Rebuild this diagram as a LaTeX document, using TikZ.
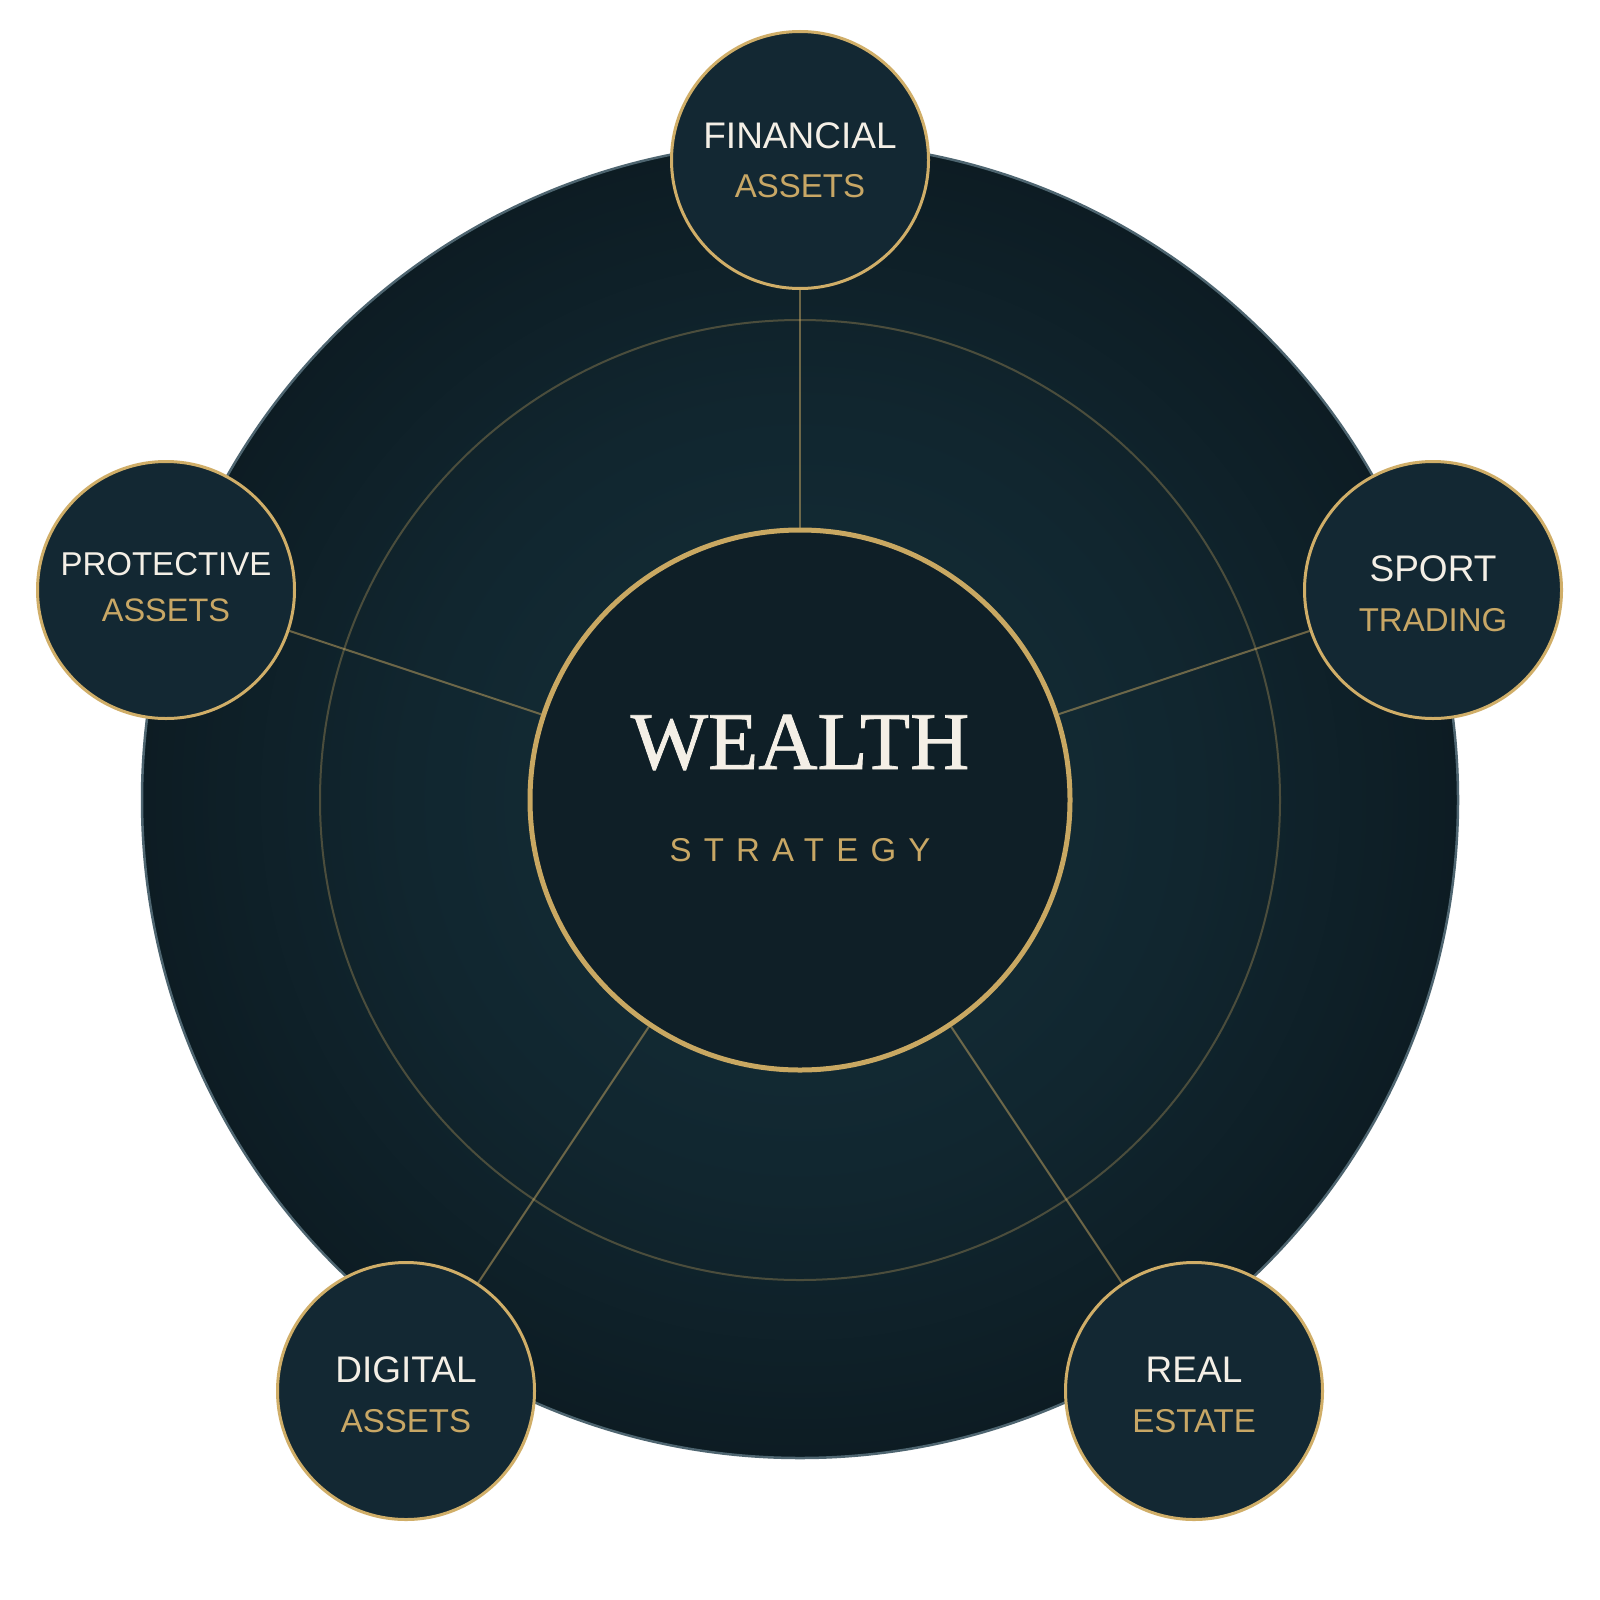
\documentclass[tikz,border=0pt]{standalone}
\usepackage{fontspec}
\setmainfont{Liberation Sans}
\newfontfamily\wealthfont[FakeBold=1]{Liberation Serif}
\newfontfamily\trackfont[LetterSpace=37]{Liberation Sans}
\definecolor{gold}{HTML}{C9A862}
\definecolor{satgold}{HTML}{D0AE68}
\definecolor{goldtext}{HTML}{C8A765}
\definecolor{cream}{HTML}{F4EFE6}
\definecolor{satfill}{HTML}{132833}
\definecolor{corefill}{HTML}{0F1F27}
\definecolor{mainedge}{HTML}{4E6570}
\definecolor{glowA}{HTML}{14303A}
\definecolor{glowB}{HTML}{11262F}
\definecolor{glowC}{HTML}{0C1B22}
\definecolor{glowD}{HTML}{061015}
\pgfdeclareradialshading{mainglow}{\pgfpoint{0bp}{0bp}}{color(0bp)=(glowA); color(15bp)=(glowB); color(26bp)=(glowC); color(35.4bp)=(glowD); color(50bp)=(glowD)}
\begin{document}
\begin{tikzpicture}[x=1pt,y=-1pt,
  satnode/.style={circle, draw=satgold, line width=3pt, fill=satfill, minimum size=257pt, inner sep=0pt},
  corenode/.style={circle, draw=gold, line width=5pt, fill=corefill, minimum size=540pt, inner sep=0pt},
  linkline/.style={draw=gold, draw opacity=0.5, line width=2pt},
  ringline/.style={draw=gold, draw opacity=0.32, line width=2pt},
  topword/.style={text=cream, font=\fontsize{37}{40}\selectfont, inner sep=0pt, anchor=base},
  subword/.style={text=goldtext, font=\fontsize{33}{36}\selectfont, inner sep=0pt, anchor=base}
]
\fill[white] (0,0) rectangle (1600,1600);
\useasboundingbox (0,0) rectangle (1600,1600);
% main disc
\shade[shading=mainglow] (800,800) circle[radius=658];
\draw[draw=mainedge, line width=2.5pt] (800,800) circle[radius=658];
% middle ring
\draw[ringline] (800,800) circle[radius=480];
% nodes
\node[corenode] (core) at (800,800) {};
\node[satnode] (fin) at (800,160) {};
\node[satnode] (sport) at (1433,590) {};
\node[satnode] (prot) at (166,590) {};
\node[satnode] (dig) at (406,1391) {};
\node[satnode] (real) at (1194,1391) {};
% connectors
\draw[linkline] (fin) -- (core);
\draw[linkline] (sport) -- (core);
\draw[linkline] (prot) -- (core);
\draw[linkline] (dig) -- (core);
\draw[linkline] (real) -- (core);
% texts
\node[text=cream, font=\wealthfont\fontsize{82}{90}\selectfont, inner sep=0pt, anchor=base] (wealthtxt) at ([yshift=31pt]core.center) {WEALTH};
\node[text=goldtext, font=\trackfont\fontsize{33}{36}\selectfont, inner sep=0pt, anchor=base] (strattxt) at ([yshift=-61pt]core.center) {STRATEGY};
\node[topword] (finA) at ([yshift=12pt]fin.center) {FINANCIAL};
\node[subword] (finB) at ([yshift=-37pt]fin.center) {ASSETS};
\node[topword] (sportA) at ([yshift=9pt]sport.center) {SPORT};
\node[subword] (sportB) at ([yshift=-41pt]sport.center) {TRADING};
\node[topword, font=\fontsize{33}{36}\selectfont] (protA) at ([yshift=14.5pt]prot.center) {PROTECTIVE};
\node[subword, font=\fontsize{32.5}{36}\selectfont] (protB) at ([yshift=-31pt]prot.center) {ASSETS};
\node[topword] (digA) at ([yshift=9pt]dig.center) {DIGITAL};
\node[subword] (digB) at ([yshift=-41pt]dig.center) {ASSETS};
\node[topword] (realA) at ([yshift=9pt]real.center) {REAL};
\node[subword] (realB) at ([yshift=-41pt]real.center) {ESTATE};
\end{tikzpicture}
\end{document}
